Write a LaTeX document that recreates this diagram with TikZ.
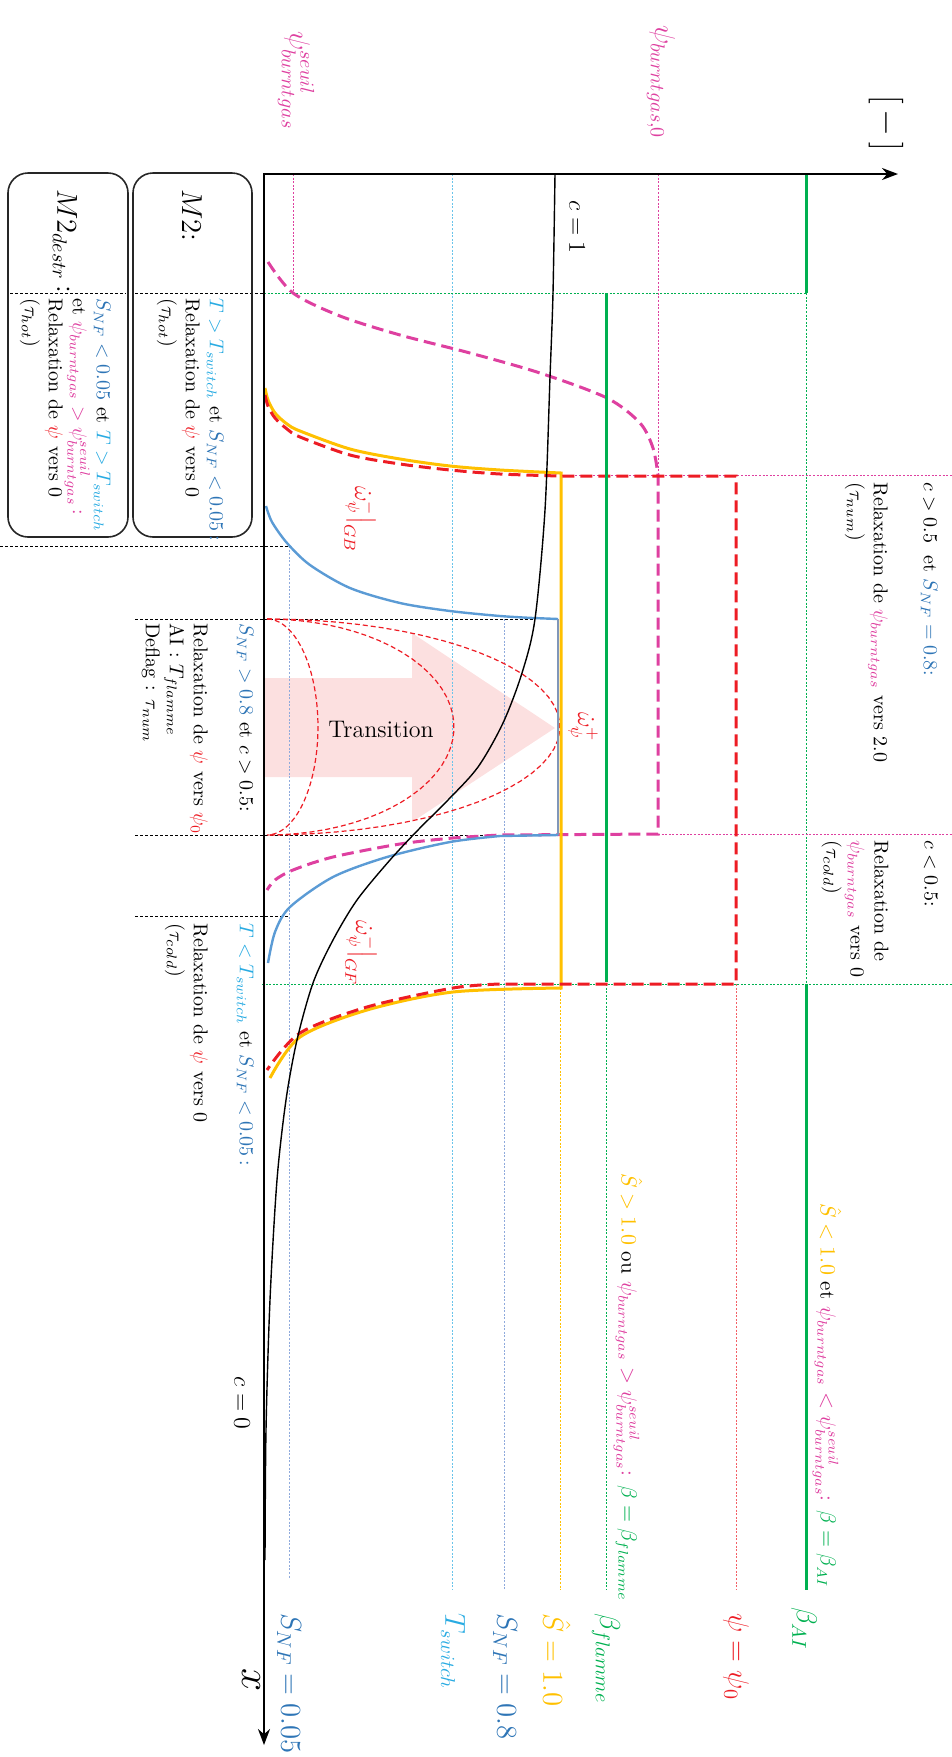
\documentclass[tikz,border=0pt]{standalone}
\usepackage{amsmath}
\usetikzlibrary{arrows.meta}
\definecolor{snf}{RGB}{46,117,182}
\definecolor{snfc}{RGB}{91,155,213}
\definecolor{tsw}{RGB}{41,171,226}
\definecolor{pinkc}{RGB}{222,64,160}
\definecolor{redc}{RGB}{237,28,36}
\definecolor{greenc}{RGB}{0,176,80}
\definecolor{orangec}{RGB}{255,192,0}
\definecolor{greyb}{RGB}{143,170,220}
\definecolor{slate}{RGB}{128,150,185}
\definecolor{arrowpink}{RGB}{252,224,224}
\begin{document}
\begin{tikzpicture}[>={Stealth[length=8pt,width=6pt]}, x=0.5pt, y=-0.5pt,
  gridline/.style={line width=0.4pt, dash pattern=on 1pt off 0.8pt},
  sepline/.style={line width=0.4pt, dash pattern=on 1.5pt off 1pt},
  thickdash/.style={line width=1.5pt, dash pattern=on 6pt off 3pt},
  thindash/.style={redc, line width=0.6pt, dash pattern=on 2.5pt off 1.5pt},
  solidline/.style={line width=1.5pt},
  rtext/.style={rotate=-90, anchor=north west, align=left, inner sep=0pt},
  blabel/.style={rotate=-90, anchor=west, inner sep=0pt, font=\Large},
  mbox/.style={rounded corners=10pt, line width=0.8pt, draw=black!85}]
\useasboundingbox (0,0) rectangle (952,1757);

% fleche de transition
\fill[arrowpink] (264,678) -- (412,678) -- (412,633) -- (555,728) -- (412,822) -- (412,777) -- (264,777) -- cycle;

% lignes de reference
\draw[gridline, pinkc] (293,174) -- (293,293);
\draw[gridline, pinkc] (658,174) -- (658,475);
\draw[gridline, tsw!70] (452,174) -- (452,1590);
\draw[gridline, greyb] (289,546) -- (289,1579);
\draw[gridline, greyb] (504,619) -- (504,1590);
\draw[gridline, orangec] (560,988) -- (560,1590);
\draw[gridline, greenc] (606,984) -- (606,1590);
\draw[gridline, redc!70] (736,984) -- (736,1590);
\draw[gridline, greenc] (806,293) -- (806,984);
\draw[gridline, greenc] (264,293) -- (806,293);
\draw[gridline, greenc] (262,984) -- (952,984);
\draw[gridline, pinkc] (561,475) -- (952,475);
\draw[gridline, pinkc] (658,834) -- (952,834);

\draw[sepline] (10,293) -- (126,293);
\draw[sepline] (135,293) -- (264,293);
\draw[sepline] (0,546) -- (289,546);
\draw[sepline] (135,619) -- (535,619);
\draw[sepline] (135,835) -- (558,835);
\draw[sepline] (135,916) -- (289,916);

% omega psi
\foreach \r in {51,187,293}
  \draw[thindash] plot[domain=-90:90, samples=40] ({267+\r*cos(\x)}, {727+108*sin(\x)});

% courbes
\draw[pinkc, thickdash] plot[smooth] coordinates {(268,262) (293,293) (340,316) (400,335) (470,353) (540,373) (607,398) (640,423) (653,448) (658,475)}
  -- (658,834) -- (500,835) -- plot[smooth] coordinates {(500,835) (453,838) (400,844) (333,857) (293,870) (275,880) (267,890)};
\draw[orangec, solidline] plot[smooth] coordinates {(265,388) (268,400) (275,413) (287,424) (300,431) (350,449) (400,459) (450,466) (500,470) (561,473)}
  -- (561,988) -- plot[smooth] coordinates {(561,988) (453,992) (367,1010) (300,1037) (270,1078)};
\draw[redc, thickdash] plot[smooth] coordinates {(265,395) (268,406) (275,418) (287,429) (300,437) (350,455) (400,464) (450,470) (500,474) (560,476)}
  -- (736,476) -- (736,984) -- (500,984) -- plot[smooth] coordinates {(500,984) (453,988) (367,1007) (300,1033) (267,1070)};
\draw[snfc, line width=1.2pt] plot[smooth] coordinates {(266,506) (272,522) (287,543) (310,565) (350,588) (400,603) (450,611) (500,616) (533,618)} -- (558,619);
\draw[slate, line width=1.2pt] (558,619) -- (558,835);
\draw[snfc, line width=1.2pt] (558,835) -- (500,836) -- plot[smooth] coordinates {(500,836) (450,842) (387,857) (333,877) (290,907) (275,932) (268,963)};
\draw[line width=0.7pt] plot[smooth] coordinates {(555,174) (553,293) (550,377) (545,510) (535,619) (522,673) (503,723) (478,767) (448,800) (418,830) (390,860) (357,900) (333,940) (313,983) (297,1040) (286,1100) (277,1180) (270,1300) (266,1430) (265,1560)};

\draw[greenc, solidline] (806,174) -- (806,293);
\draw[greenc, solidline] (606,293) -- (606,982);
\draw[greenc, solidline] (806,984) -- (806,1590);

% axes
\draw[<->, line width=1pt] (898,174) -- (264,174) -- (264,1745);

% cadres M2
\draw[mbox] (133,173) rectangle (252,537);
\draw[mbox] (8,173) rectangle (128,537);

\node[rotate=-90, pinkc, font=\Large, anchor=west] (seuil) at (296,24) {$\psi^{seuil}_{burntgas}$};
\node[rotate=-90, pinkc, font=\Large, anchor=west] (psizero) at (661,18) {$\psi_{burntgas,0}$};
\node[rotate=-90, font=\LARGE] (unit) at (886,123) {$[\,-\,]$};

\node[rotate=-90, font=\Large, anchor=west] (mtwo) at (192,182) {$M2$:};
\node[rotate=-90, font=\Large, anchor=west] (mdestr) at (65,182) {$M2_{destr}$\,:};
\node[rtext] (mtwotxt) at (224,298) {\textcolor{tsw}{$T>T_{switch}$} et \textcolor{snf}{$S_{NF}<0.05$\,:}\\ Relaxation de \textcolor{redc}{$\psi$} vers 0\\ ($\tau_{hot}$)};
\node[rtext] (mdestrtxt) at (111,298) {\textcolor{snf}{$S_{NF}<0.05$} et \textcolor{tsw}{$T>T_{switch}$}\\ et \textcolor{pinkc}{$\psi_{burntgas}>\psi^{seuil}_{burntgas}$\,:}\\ Relaxation de \textcolor{redc}{$\psi$} vers 0\\ ($\tau_{hot}$)};

\node[rtext] (hauta) at (938,482) {$c>0.5$\; et \textcolor{snf}{$S_{NF}=0.8$:}\\[13pt] Relaxation de \textcolor{pinkc}{$\psi_{burntgas}$} vers 2.0\\ ($\tau_{num}$)};
\node[rtext] (hautb) at (938,840) {$c<0.5$:\\[13pt] Relaxation de\\ \textcolor{pinkc}{$\psi_{burntgas}$} vers 0\\ ($\tau_{cold}$)};
\node[rtext] (transtxt) at (254,623) {\textcolor{snf}{$S_{NF}>0.8$} et $c>0.5$:\\[11pt] Relaxation de \textcolor{redc}{$\psi$} vers \textcolor{redc}{$\psi_0$}\\ AI : $T_{flamme}$\\ Deflag : $\tau_{num}$};
\node[rtext] (basgauche) at (254,923) {\textcolor{tsw}{$T<T_{switch}$} et \textcolor{snf}{$S_{NF}<0.05$\,:}\\[11pt] Relaxation de \textcolor{redc}{$\psi$} vers 0\\ ($\tau_{cold}$)};

\node[rotate=-90, anchor=west, font=\fontsize{10.5}{13}\selectfont] (condflamme) at (628,1166) {\textcolor{orangec}{$\hat{S}>1.0$} ou \textcolor{pinkc}{$\psi_{burntgas}>\psi^{seuil}_{burntgas}$:} \textcolor{greenc}{$\beta=\beta_{flamme}$}};
\node[rotate=-90, anchor=west, font=\fontsize{10.5}{13}\selectfont] (condai) at (827,1196) {\textcolor{orangec}{$\hat{S}<1.0$} et \textcolor{pinkc}{$\psi_{burntgas}<\psi^{seuil}_{burntgas}$:} \textcolor{greenc}{$\beta=\beta_{AI}$}};

\node[rotate=-90, font=\large] (cun) at (577,227) {$c=1$};
\node[rotate=-90, font=\large] (czero) at (242,1403) {$c=0$};
\node[rotate=-90, redc, font=\large] (omplus) at (583,727) {$\dot{\omega}^{+}_{\psi}$};
\node[rotate=-90, redc, font=\large] (omgb) at (360,518) {$\left.\dot{\omega}^{-}_{\psi}\right|_{GB}$};
\node[rotate=-90, redc, font=\large] (omgf) at (361,952) {$\left.\dot{\omega}^{-}_{\psi}\right|_{GF}$};
\node (trans) at (381,729) {\large Transition};

\node[blabel, greenc] (bai) at (804,1607) {$\beta_{AI}$};
\node[blabel, redc] (psio) at (736,1613) {$\psi=\psi_0$};
\node[blabel, greenc] (bfl) at (606,1613) {$\beta_{flamme}$};
\node[blabel, orangec] (shat) at (557,1613) {$\hat{S}=1.0$};
\node[blabel, snf] (snfhuit) at (505,1613) {$S_{NF}=0.8$};
\node[blabel, tsw] (tswitch) at (453,1613) {$T_{switch}$};
\node[blabel, snf] (snfcinq) at (289,1613) {$S_{NF}=0.05$};
\node[rotate=-90, font=\huge] (xlab) at (251,1680) {$x$};
\end{tikzpicture}
\end{document}
